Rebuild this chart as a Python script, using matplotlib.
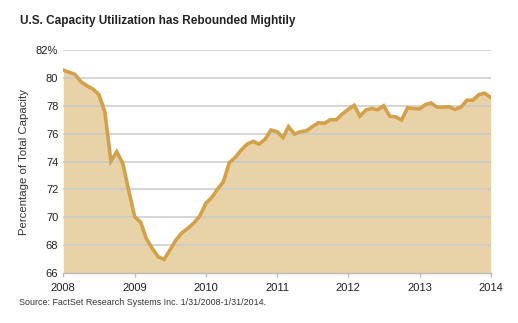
import numpy as np
import pandas as pd
import matplotlib.pyplot as plt

# Monthly U.S. capacity utilization, Jan 2008 - Jan 2014 (percent)
util_2008 = [80.56, 80.4, 80.25, 79.72, 79.44, 79.2, 78.82, 77.57, 74.03, 74.7, 73.87, 71.95]
util_2009 = [70.04, 69.64, 68.49, 67.77, 67.17, 66.98, 67.65, 68.37, 68.89, 69.2, 69.6, 70.09]
util_2010 = [71.0, 71.43, 72.0, 72.55, 73.91, 74.3, 74.82, 75.25, 75.45, 75.25, 75.6, 76.26]
util_2011 = [76.14, 75.73, 76.5, 75.97, 76.14, 76.2, 76.5, 76.78, 76.74, 77.0, 77.0, 77.4]
util_2012 = [77.74, 78.03, 77.26, 77.7, 77.8, 77.72, 78.0, 77.26, 77.2, 76.98, 77.86, 77.8]
util_2013 = [77.77, 78.1, 78.2, 77.9, 77.9, 77.93, 77.74, 77.9, 78.4, 78.4, 78.8, 78.9]
util_2014 = [78.6]

utilization = util_2008 + util_2009 + util_2010 + util_2011 + util_2012 + util_2013 + util_2014
dates = pd.date_range('2008-01-01', periods=len(utilization), freq='MS')
years = pd.date_range('2008-01-01', '2014-01-01', freq='YS')
y_ticks = [66, 68, 70, 72, 74, 76, 78, 80, 82]
y_labels = ['66', '68', '70', '72', '74', '76', '78', '80', '82%']

fill_color = '#E8D3A8'
line_color = '#D4A04A'
grid_color = '#C9C9C9'

plt.rcParams['font.family'] = ['Liberation Sans', 'DejaVu Sans']

fig = plt.figure(figsize=(5.18, 3.23), dpi=100)
ax = fig.add_axes([0.1222, 0.1548, 0.8251, 0.6902])

ax.fill_between(dates, utilization, 66, color=fill_color, lw=0, zorder=1)
for v in y_ticks[1:]:
    ax.axhline(v, color=grid_color, lw=1.2, zorder=2, alpha=0.9)
ax.plot(dates, utilization, color=line_color, lw=2.6, zorder=3, solid_joinstyle='miter')

ax.set_xlim(dates[0], dates[-1])
ax.set_ylim(66, 82)
ax.set_yticks(y_ticks)
ax.set_yticklabels(y_labels)
ax.set_xticks(years)
ax.set_xticklabels([str(d.year) for d in years])

for side in ['top', 'right', 'left']:
    ax.spines[side].set_visible(False)
ax.spines['bottom'].set_color('#BBBBBB')
ax.spines['bottom'].set_linewidth(1.0)
ax.tick_params(axis='y', length=0, pad=3.6, labelsize=8, colors='#222222')
ax.tick_params(axis='x', length=3, width=1, color='#BBBBBB', pad=4.5, labelsize=8,
               labelcolor='#222222')
ax.set_ylabel('Percentage of Total Capacity', fontsize=8.2, color='#333333', labelpad=5)

fig.text(0.039, 0.925, 'U.S. Capacity Utilization has Rebounded Mightily',
         fontsize=8.5, fontweight='bold', color='#222222')
fig.text(0.037, 0.055, 'Source: FactSet Research Systems Inc. 1/31/2008-1/31/2014.',
         fontsize=6.4, color='#333333')

fig.savefig('out.png', dpi=100)
